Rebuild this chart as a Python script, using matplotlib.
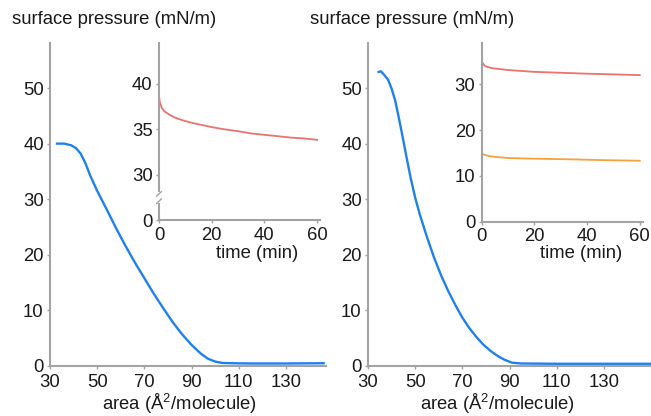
import matplotlib
matplotlib.use("Agg")
import matplotlib.pyplot as plt

plt.rcParams['font.family'] = ['Liberation Sans', 'DejaVu Sans']
plt.rcParams['mathtext.fontset'] = 'custom'
plt.rcParams['mathtext.rm'] = 'Liberation Sans'
plt.rcParams['mathtext.it'] = 'Liberation Sans:italic'

# isotherm, left panel
area_a = [33, 36, 39, 41, 43, 45, 47, 50, 54, 58, 62, 66, 70, 74, 78, 82, 86, 90,
          94, 97, 100, 103, 107, 115, 130, 146]
press_a = [40.0, 40.0, 39.7, 39.2, 38.2, 36.5, 34.3, 31.5, 28.2, 24.8, 21.6, 18.6,
           15.8, 13.0, 10.4, 7.9, 5.7, 3.8, 2.2, 1.3, 0.8, 0.55, 0.5, 0.45, 0.45, 0.5]

# isotherm, right panel
area_b = [34.5, 35.5, 37, 38.5, 40, 41.5, 43, 44.5, 46, 48, 50, 52, 55, 58, 61, 64,
          67, 70, 73, 76, 79, 82, 85, 88, 91, 95, 110, 130, 150]
press_b = [52.9, 53.0, 52.3, 51.5, 49.9, 47.8, 44.8, 41.6, 38.3, 34.0, 30.3, 27.2,
           23.2, 19.5, 16.3, 13.5, 11.0, 8.7, 6.8, 5.2, 3.8, 2.7, 1.8, 1.1, 0.6,
           0.45, 0.4, 0.4, 0.4]

# inset, left panel
time_a = [0, 0.3, 1, 2, 4, 6, 9, 12, 16, 20, 25, 30, 35, 40, 45, 50, 55, 60]
relax_a = [38.7, 38.0, 37.4, 37.0, 36.6, 36.3, 36.0, 35.75, 35.5, 35.25, 35.0, 34.8,
           34.55, 34.4, 34.25, 34.1, 34.0, 33.85]

# inset, right panel
time_b = [0, 0.3, 1, 2, 4, 7, 10, 15, 20, 30, 40, 50, 60]
relax_b_hi = [35.3, 34.7, 34.1, 33.8, 33.5, 33.3, 33.1, 32.9, 32.7, 32.5, 32.3, 32.15, 32.0]
time_c = [0, 1, 3, 6, 10, 16, 25, 35, 45, 60]
relax_b_lo = [14.9, 14.6, 14.3, 14.1, 13.9, 13.8, 13.7, 13.6, 13.45, 13.3]

area_ticks = [30, 50, 70, 90, 110, 130]
press_ticks = [0, 10, 20, 30, 40, 50]
time_ticks = [0, 20, 40, 60]

W, H = 651, 416
BLUE = '#1f80ee'
RED = '#e8736f'
ORANGE = '#f7a13c'
GREY = '#a3a3a3'
TXT = '#1a1a1a'
FS = 13.3


def box(l, b, w, h):
    return [l / W, b / H, w / W, h / H]


def style(ax):
    for s in ['top', 'right']:
        ax.spines[s].set_visible(False)
    for s in ['left', 'bottom']:
        ax.spines[s].set_color(GREY)
        ax.spines[s].set_linewidth(1.5)
    ax.tick_params(colors=GREY, labelcolor=TXT, labelsize=FS, length=2.5,
                   width=1, pad=2)
    ax.patch.set_alpha(0)


fig = plt.figure(figsize=(W / 100, H / 100), dpi=100)

main_boxes = [box(50, 50, 276, 323), box(368, 50, 283, 323)]
main_x = [(30, 147), (30, 150)]
curves = [(area_a, press_a), (area_b, press_b)]
for k in range(2):
    ax = fig.add_axes(main_boxes[k])
    style(ax)
    ax.tick_params(axis='x', pad=3.5)
    ax.plot(curves[k][0], curves[k][1], color=BLUE, lw=1.7)
    ax.set_xlim(*main_x[k])
    ax.set_ylim(0, 58.1)
    ax.set_xticks(area_ticks)
    ax.set_yticks(press_ticks)

# left inset with broken y axis (bottom tick stands for 0)
ins1 = fig.add_axes(box(159, 195.7, 161, 177.3))
style(ins1)
ins1.plot(time_a, relax_a, color=RED, lw=1.3)
ins1.set_xlim(0, 61.1)
ins1.set_ylim(25, 44.5)
ins1.set_xticks(time_ticks)
ins1.set_yticks([25, 30, 35, 40])
ins1.set_yticklabels(['0', '30', '35', '40'])
ins1.plot([0, 0], [27.1, 27.9], color='white', lw=3, clip_on=False, zorder=5)
for yb in [27.1, 27.9]:
    ins1.plot([-0.9, 0.9], [yb - 0.25, yb + 0.25], color=GREY, lw=1,
              clip_on=False, zorder=6)

# right inset
ins2 = fig.add_axes(box(481.7, 194.3, 161, 178.7))
style(ins2)
ins2.plot(time_b, relax_b_hi, color=RED, lw=1.3)
ins2.plot(time_c, relax_b_lo, color=ORANGE, lw=1.3)
ins2.set_xlim(0, 61.1)
ins2.set_ylim(0, 39.0)
ins2.set_xticks(time_ticks)
ins2.set_yticks([0, 10, 20, 30])

# texts
for x0 in [12, 310]:
    fig.text(x0 / W, 1 - 20 / H, 'surface pressure (mN/m)', fontsize=FS,
             color=TXT, ha='left', va='center')
for x0 in [179, 497]:
    fig.text(x0 / W, 1 - 404 / H, 'area (Å$^{2}$/molecule)', fontsize=FS,
             color=TXT, ha='center', va='center')
for x0 in [257, 581]:
    fig.text(x0 / W, 1 - 254 / H, 'time (min)', fontsize=FS, color=TXT,
             ha='center', va='center')

fig.savefig('out.png', dpi=100)
